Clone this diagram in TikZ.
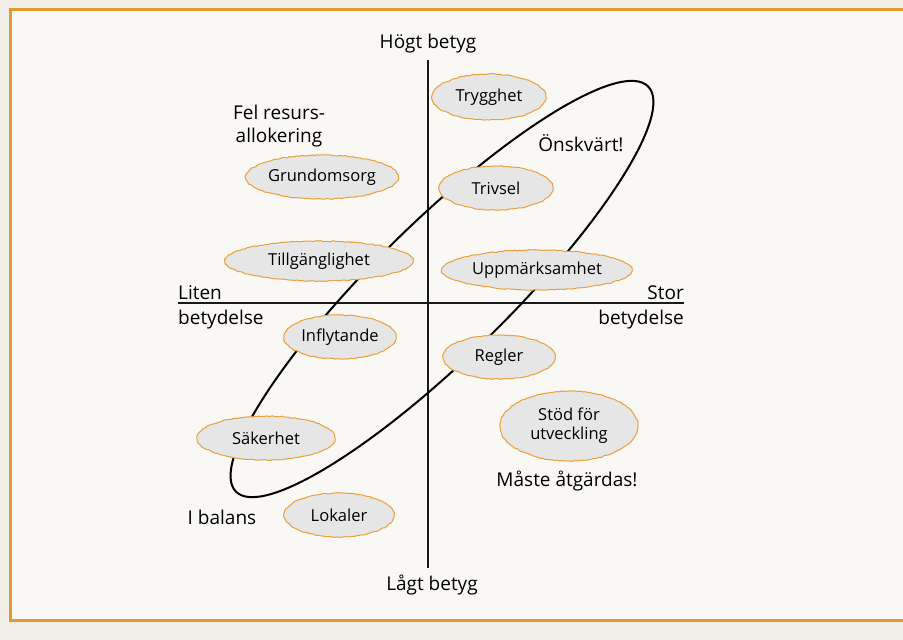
\documentclass[tikz,border=0pt]{standalone}
\usepackage{fontspec}
\setmainfont{Open Sans}
\usetikzlibrary{shapes.geometric,decorations.pathmorphing}
\definecolor{outerbg}{HTML}{F2EFE8}
\definecolor{innerbg}{HTML}{F9F8F4}
\definecolor{frameor}{HTML}{E39A2A}
\definecolor{ellfill}{HTML}{E6E6E6}
\definecolor{ellline}{HTML}{E8A03C}
\tikzset{
  ell/.style={ellipse, fill=ellfill, draw=ellline, line width=1pt, inner sep=0pt,
    decorate, decoration={random steps, segment length=2.5pt, amplitude=0.5pt},
    font=\fontsize{16.5}{19}\selectfont, text=black, align=center},
  lbl/.style={font=\fontsize{19}{23}\selectfont, text=black, inner sep=0pt, align=center},
  axis/.style={line width=1.5pt, black!90},
  band/.style={line width=2pt, black}
}
\begin{document}
\begin{tikzpicture}[x=1pt,y=-1pt]
\pgfmathsetseed{7}
\useasboundingbox (0,0) rectangle (903,640);
\fill[outerbg] (0,0) rectangle (903,640);
\fill[innerbg] (10.5,9.5) rectangle (903,620.5);
\draw[frameor, line width=3pt] (903,9.5) -- (10.5,9.5) -- (10.5,620.5) -- (903,620.5);

% axes
\coordinate (vtop) at (428,60);
\coordinate (vbot) at (428,568);
\coordinate (hleft) at (178,303);
\coordinate (hright) at (684,303);
\draw[axis] (vtop) -- (vbot);
\draw[axis] (hleft) -- (hright);

% big band ellipse (behind the small ellipses)
\coordinate (bandc) at (442,289);
\draw[band, rotate around={44.5:(bandc)}] (bandc) ellipse [x radius=289, y radius=67];

% ellipses
\node[ell, minimum width=114pt, minimum height=46pt] (trygghet) at (489,97) {Trygghet};
\node[ell, minimum width=140pt, minimum height=44pt] (grund) at (322,177) {Grundomsorg};
\node[ell, minimum width=114pt, minimum height=44pt] (trivsel) at (496,188) {Trivsel};
\node[ell, minimum width=188pt, minimum height=40pt] (tillg) at (319,261) {Tillgänglighet};
\node[ell, minimum width=190pt, minimum height=40pt] (uppm) at (537,270) {Uppmärksamhet};
\node[ell, minimum width=112pt, minimum height=44pt] (infl) at (340,337) {Inflytande};
\node[ell, minimum width=112pt, minimum height=44pt] (regler) at (499,357) {Regler};
\node[ell, minimum width=138pt, minimum height=70pt] (stod) at (569,426) {Stöd för\\utveckling};
\node[ell, minimum width=138pt, minimum height=44pt] (saker) at (266,438) {Säkerhet};
\node[ell, minimum width=110pt, minimum height=44pt] (lokaler) at (339,515) {Lokaler};

% labels
\node[lbl] (hogt) at (428,44) {Högt betyg};
\node[lbl] (lagt) at (432,585) {Lågt betyg};
\node[lbl, anchor=base west] (liten) at (178,299) {Liten};
\node[lbl, anchor=base west] (lbet) at (178,324) {betydelse};
\node[lbl, anchor=base east] (stor) at (684,299) {Stor};
\node[lbl, anchor=base east] (sbet) at (684,324) {betydelse};
\node[lbl] (fel) at (279,126) {Fel resurs-\\allokering};
\node[lbl] (onsk) at (581,143) {Önskvärt!};
\node[lbl] (maste) at (567,481) {Måste åtgärdas!};
\node[lbl] (balans) at (222,517) {I balans};
\end{tikzpicture}
\end{document}
